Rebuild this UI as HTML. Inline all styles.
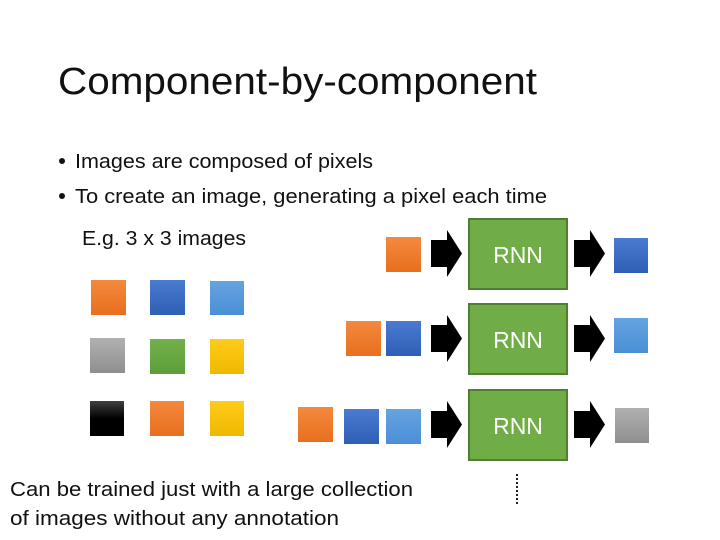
<!DOCTYPE html>
<html><head><meta charset="utf-8"><style>
html,body{margin:0;padding:0;background:#fff;}
svg{display:block;}
text{font-family:"Liberation Sans",sans-serif;}
</style></head><body>
<svg width="720" height="540" viewBox="0 0 720 540" xmlns="http://www.w3.org/2000/svg">
<defs>
<linearGradient id="o" x1="0" y1="0" x2="0" y2="1"><stop offset="0" stop-color="#f4893e"/><stop offset="1" stop-color="#e86f1e"/></linearGradient>
<linearGradient id="b" x1="0" y1="0" x2="0" y2="1"><stop offset="0" stop-color="#4a7bd0"/><stop offset="1" stop-color="#2f5fb5"/></linearGradient>
<linearGradient id="l" x1="0" y1="0" x2="0" y2="1"><stop offset="0" stop-color="#66a3e0"/><stop offset="1" stop-color="#4a8fd6"/></linearGradient>
<linearGradient id="g" x1="0" y1="0" x2="0" y2="1"><stop offset="0" stop-color="#b0b0b0"/><stop offset="1" stop-color="#8f8f8f"/></linearGradient>
<linearGradient id="gr" x1="0" y1="0" x2="0" y2="1"><stop offset="0" stop-color="#72b04a"/><stop offset="1" stop-color="#5e9e38"/></linearGradient>
<linearGradient id="y" x1="0" y1="0" x2="0" y2="1"><stop offset="0" stop-color="#ffcc1a"/><stop offset="1" stop-color="#f0b800"/></linearGradient>
<linearGradient id="k" x1="0" y1="0" x2="0" y2="1"><stop offset="0" stop-color="#404040"/><stop offset="0.5" stop-color="#000"/><stop offset="1" stop-color="#000"/></linearGradient>
<path id="arr" d="M0 10 H16 V0 L31 23.5 L16 47 V37 H0 Z" fill="#000"/>
</defs>
<text x="58" y="94" font-size="38" fill="#111" textLength="479" lengthAdjust="spacingAndGlyphs">Component-by-component</text>
<circle cx="62" cy="161" r="3" fill="#111"/>
<circle cx="62" cy="196" r="3" fill="#111"/>
<text x="75" y="168" font-size="20" fill="#111" textLength="298" lengthAdjust="spacingAndGlyphs">Images are composed of pixels</text>
<text x="75" y="203" font-size="20" fill="#111" textLength="472" lengthAdjust="spacingAndGlyphs">To create an image, generating a pixel each time</text>
<text x="82" y="245" font-size="20" fill="#111" textLength="164" lengthAdjust="spacingAndGlyphs">E.g. 3 x 3 images</text>
<!-- grid -->
<rect x="91" y="280" width="35" height="35" fill="url(#o)"/>
<rect x="150" y="280" width="35" height="35" fill="url(#b)"/>
<rect x="210" y="281" width="34" height="34" fill="url(#l)"/>
<rect x="90" y="338" width="35" height="35" fill="url(#g)"/>
<rect x="150" y="339" width="35" height="35" fill="url(#gr)"/>
<rect x="210" y="339" width="34" height="35" fill="url(#y)"/>
<rect x="90" y="401" width="34" height="35" fill="url(#k)"/>
<rect x="150" y="401" width="34" height="35" fill="url(#o)"/>
<rect x="210" y="401" width="34" height="35" fill="url(#y)"/>
<!-- row1 -->
<rect x="386" y="237" width="35" height="35" fill="url(#o)"/>
<use href="#arr" x="431" y="230"/>
<rect x="469" y="219" width="98" height="70" fill="#70ad47" stroke="#507e32" stroke-width="2"/>
<text x="518" y="263" font-size="23" fill="#fff" text-anchor="middle">RNN</text>
<use href="#arr" x="574" y="230"/>
<rect x="614" y="238" width="34" height="35" fill="url(#b)"/>
<!-- row2 -->
<rect x="346" y="321" width="35" height="35" fill="url(#o)"/>
<rect x="386" y="321" width="35" height="35" fill="url(#b)"/>
<use href="#arr" x="431" y="315"/>
<rect x="469" y="304" width="98" height="70" fill="#70ad47" stroke="#507e32" stroke-width="2"/>
<text x="518" y="348" font-size="23" fill="#fff" text-anchor="middle">RNN</text>
<use href="#arr" x="574" y="315"/>
<rect x="614" y="318" width="34" height="35" fill="url(#l)"/>
<!-- row3 -->
<rect x="298" y="407" width="35" height="35" fill="url(#o)"/>
<rect x="344" y="409" width="35" height="35" fill="url(#b)"/>
<rect x="386" y="409" width="35" height="35" fill="url(#l)"/>
<use href="#arr" x="431" y="401"/>
<rect x="469" y="390" width="98" height="70" fill="#70ad47" stroke="#507e32" stroke-width="2"/>
<text x="518" y="434" font-size="23" fill="#fff" text-anchor="middle">RNN</text>
<use href="#arr" x="574" y="401"/>
<rect x="615" y="408" width="34" height="35" fill="url(#g)"/>
<line x1="517" y1="474" x2="517" y2="506" stroke="#222" stroke-width="2" stroke-dasharray="2 2"/>
<text x="10" y="496" font-size="20" fill="#111" textLength="403" lengthAdjust="spacingAndGlyphs">Can be trained just with a large collection</text>
<text x="10" y="525" font-size="20" fill="#111" textLength="329" lengthAdjust="spacingAndGlyphs">of images without any annotation</text>
</svg>
</body></html>
